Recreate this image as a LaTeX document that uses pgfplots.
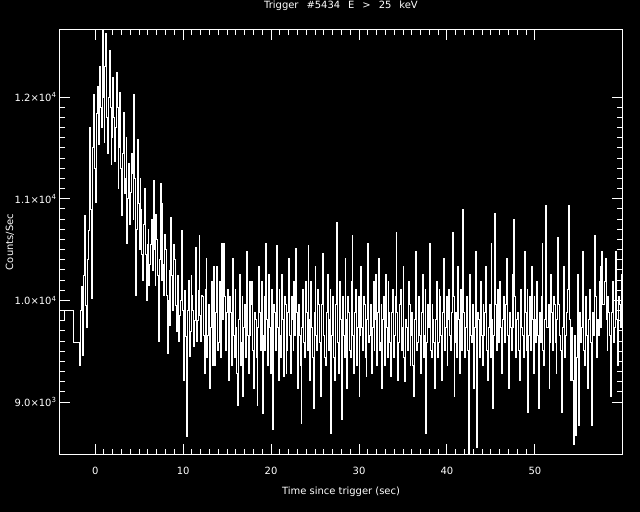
\documentclass[border=0pt]{standalone}
\usepackage{fontspec}
\setmainfont{DejaVu Sans}
\usepackage{pgfplots}
\usepackage{pgfplotstable}
\pgfplotsset{compat=1.18}

% 0.1 s bins starting at t=-1.8 s (counts/sec), last row closes the final step
\pgfplotstableread[row sep=\\]{
c\\
9360\\ 9900\\ 10140\\ 9650\\ 9460\\ 10250\\ 10840\\ 9950\\ 9730\\ 10400\\ 10690\\ 11200\\ 11700\\ 10900\\ 10020\\ 11500\\ 12030\\ 11300\\ 10960\\ 11600\\
11840\\ 12100\\ 11530\\ 12300\\ 11900\\ 11700\\ 12750\\ 12000\\ 11550\\ 12300\\ 12630\\ 11800\\ 11450\\ 12000\\ 12460\\ 11900\\ 11340\\ 11600\\ 12190\\ 11800\\
11370\\ 11700\\ 12240\\ 11900\\ 11100\\ 11500\\ 12050\\ 11300\\ 10840\\ 11450\\ 11850\\ 11050\\ 11200\\ 11600\\ 10560\\ 11000\\ 11350\\ 10750\\ 11060\\ 11450\\
11250\\ 10800\\ 12030\\ 11200\\ 10050\\ 10700\\ 11580\\ 10950\\ 10500\\ 11200\\ 10900\\ 10450\\ 10200\\ 10750\\ 11100\\ 10450\\ 10000\\ 10550\\ 10700\\ 10150\\
10350\\ 10550\\ 10800\\ 10300\\ 11180\\ 10500\\ 10150\\ 10850\\ 10600\\ 10250\\ 9600\\ 10400\\ 11150\\ 10200\\ 10950\\ 10350\\ 10050\\ 10650\\ 10500\\ 10050\\
9480\\ 10000\\ 10300\\ 9750\\ 10820\\ 10250\\ 9900\\ 10550\\ 10400\\ 9950\\ 9700\\ 10150\\ 10250\\ 9600\\ 9850\\ 10000\\ 10690\\ 9900\\ 9210\\ 9850\\
10100\\ 9650\\ 8660\\ 9900\\ 10200\\ 9450\\ 9700\\ 10250\\ 10050\\ 9900\\ 9550\\ 9800\\ 10520\\ 9600\\ 9800\\ 10100\\ 10640\\ 9850\\ 9600\\ 10050\\
10035\\ 9660\\ 9285\\ 10110\\ 10410\\ 9435\\ 9660\\ 9960\\ 9135\\ 9735\\ 10185\\ 9360\\ 9810\\ 10335\\ 9360\\ 9885\\ 10335\\ 9510\\ 9585\\ 10185\\
9960\\ 9435\\ 10560\\ 9810\\ 10560\\ 10035\\ 9510\\ 9885\\ 10110\\ 9510\\ 9210\\ 10035\\ 9885\\ 9360\\ 10410\\ 9660\\ 9435\\ 10110\\ 9735\\ 9285\\
8970\\ 9810\\ 10260\\ 9360\\ 9585\\ 10035\\ 9060\\ 9735\\ 9960\\ 9435\\ 10485\\ 9660\\ 9285\\ 10185\\ 9660\\ 9960\\ 10185\\ 9510\\ 9135\\ 9885\\
9810\\ 9435\\ 8970\\ 9735\\ 10335\\ 9885\\ 9510\\ 10185\\ 8890\\ 9660\\ 10035\\ 9510\\ 10560\\ 9810\\ 9360\\ 10260\\ 9735\\ 9285\\ 10110\\ 9585\\
8730\\ 9960\\ 9885\\ 9510\\ 10540\\ 9735\\ 9210\\ 10110\\ 9660\\ 9435\\ 10260\\ 9810\\ 9250\\ 10035\\ 9960\\ 9285\\ 9510\\ 9885\\ 10410\\ 9660\\
9285\\ 10035\\ 9810\\ 9510\\ 10185\\ 9660\\ 10510\\ 9885\\ 9135\\ 9960\\ 9660\\ 9360\\ 8790\\ 9735\\ 10110\\ 9585\\ 9435\\ 10185\\ 9885\\ 9510\\
10540\\ 9810\\ 9210\\ 10185\\ 9735\\ 9435\\ 8940\\ 9885\\ 10335\\ 9660\\ 9510\\ 10110\\ 9960\\ 9585\\ 9060\\ 9960\\ 10460\\ 9735\\ 9660\\ 9435\\
9360\\ 9885\\ 10260\\ 9510\\ 9810\\ 10110\\ 8690\\ 9660\\ 10035\\ 9435\\ 9210\\ 9960\\ 10770\\ 9735\\ 9585\\ 9285\\ 10185\\ 9810\\ 8830\\ 10035\\
9660\\ 9435\\ 10410\\ 9810\\ 9135\\ 10035\\ 9885\\ 9510\\ 9435\\ 10185\\ 10640\\ 9660\\ 9285\\ 9885\\ 10110\\ 9360\\ 9735\\ 10035\\ 9060\\ 9660\\
10335\\ 9735\\ 9510\\ 10035\\ 9960\\ 9435\\ 9250\\ 9810\\ 10560\\ 9585\\ 9660\\ 9960\\ 9285\\ 9735\\ 10185\\ 9510\\ 9810\\ 10260\\ 9360\\ 9885\\
10410\\ 9510\\ 9585\\ 9960\\ 9135\\ 9810\\ 10035\\ 9360\\ 10260\\ 9735\\ 9435\\ 10185\\ 9885\\ 9585\\ 9250\\ 9885\\ 10110\\ 9435\\ 9660\\ 10035\\
10670\\ 9885\\ 9210\\ 9585\\ 9960\\ 10110\\ 9510\\ 9735\\ 10335\\ 9435\\ 9200\\ 9810\\ 9735\\ 9510\\ 10185\\ 9960\\ 9360\\ 9660\\ 9885\\ 9360\\
9060\\ 9810\\ 10485\\ 9510\\ 9585\\ 9960\\ 10035\\ 9660\\ 9285\\ 9885\\ 10260\\ 9435\\ 9660\\ 10110\\ 8690\\ 9585\\ 9960\\ 9735\\ 10560\\ 9510\\
9435\\ 9960\\ 9810\\ 9585\\ 9135\\ 9810\\ 10185\\ 9435\\ 9585\\ 10110\\ 10035\\ 9660\\ 9210\\ 9885\\ 10410\\ 9510\\ 9735\\ 10035\\ 9360\\ 9810\\
10110\\ 9660\\ 9510\\ 9885\\ 10670\\ 10035\\ 9060\\ 9585\\ 9885\\ 9435\\ 10335\\ 9810\\ 9285\\ 10110\\ 9660\\ 9510\\ 10900\\ 9885\\ 9435\\ 9735\\
10035\\ 9510\\ 8400\\ 9810\\ 10260\\ 9660\\ 9585\\ 9960\\ 9135\\ 9735\\ 10485\\ 9585\\ 8550\\ 9885\\ 9810\\ 9435\\ 10185\\ 9660\\ 9360\\ 9960\\
9660\\ 9885\\ 10335\\ 9510\\ 9210\\ 9735\\ 9960\\ 9435\\ 10560\\ 9810\\ 8940\\ 9660\\ 10860\\ 9960\\ 9510\\ 10110\\ 9810\\ 9585\\ 10185\\ 9735\\
9285\\ 9810\\ 10035\\ 9585\\ 9585\\ 9960\\ 10410\\ 9660\\ 9135\\ 9885\\ 9735\\ 9510\\ 10260\\ 9735\\ 10800\\ 10035\\ 9435\\ 9810\\ 9885\\ 9510\\
9210\\ 9960\\ 10110\\ 9735\\ 9660\\ 9435\\ 10485\\ 9885\\ 9510\\ 10110\\ 8900\\ 9660\\ 10035\\ 9510\\ 10335\\ 9810\\ 9285\\ 10035\\ 9810\\ 9585\\
10185\\ 9660\\ 8940\\ 9885\\ 9585\\ 10035\\ 10560\\ 9510\\ 9360\\ 9810\\ 10930\\ 9735\\ 9735\\ 9960\\ 9135\\ 9585\\ 10260\\ 9885\\ 9510\\ 10035\\
9960\\ 9585\\ 9285\\ 9810\\ 10620\\ 9960\\ 9660\\ 9510\\ 8900\\ 9735\\ 10335\\ 9885\\ 9435\\ 9660\\ 9885\\ 10110\\ 10930\\ 9810\\ 9210\\ 9435\\
9735\\ 9210\\ 8580\\ 9660\\ 8670\\ 9435\\ 10260\\ 9510\\ 8770\\ 9885\\ 9585\\ 9735\\ 10485\\ 9510\\ 9360\\ 9960\\ 10035\\ 9660\\ 9135\\ 9810\\
10110\\ 9585\\ 8770\\ 9885\\ 9810\\ 9660\\ 10635\\ 10035\\ 9435\\ 9810\\ 9660\\ 10185\\ 10335\\ 9735\\ 10480\\ 9960\\ 9960\\ 10185\\ 10410\\ 9810\\
9510\\ 10035\\ 9885\\ 9660\\ 9060\\ 9885\\ 10185\\ 9585\\ 9735\\ 10110\\ 10485\\ 9810\\ 9360\\ 10035\\ 9960\\ 9735\\ 10260\\ 9885\\ 9885\\
}\fine

\newcommand{\gap}{\hspace{0.8em}}

\begin{document}
\begin{tikzpicture}[font=\fontsize{10}{12}\selectfont]
\fill[black] (-60bp,-58bp) rectangle (580bp,454bp);
\path[use as bounding box] (-60bp,-58bp) rectangle (580bp,454bp);
\begin{axis}[
    at={(0,0)}, anchor=south west,
    scale only axis, width=562bp, height=424bp,
    xmin=-4, xmax=59.9,
    ymin=8490, ymax=12660,
    xtick={0,10,...,50}, minor x tick num=9,
    ytick={9000,10000,11000,12000}, minor y tick num=9,
    yticklabels={9.0×10\textsuperscript{3}, 1.0×10\textsuperscript{4}, 1.1×10\textsuperscript{4}, 1.2×10\textsuperscript{4}},
    scaled ticks=false,
    /pgf/number format/assume math mode=true,
    tick align=inside,
    major tick length=10bp, minor tick length=5bp,
    axis line style={white, line width=1bp},
    tick style={white, line width=1bp},
    every tick label/.append style={text=white},
    xticklabel style={yshift=-10bp},
    title={Trigger\gap\#5434\gap E\gap >\gap 25\gap keV},
    title style={text=white, at={(axis description cs:0.5,1.0425)}, anchor=center},
    xlabel={Time since trigger (sec)},
    xlabel style={text=white, at={(axis description cs:0.5,-0.0896)}, anchor=center},
    ylabel={Counts/Sec},
    ylabel style={text=white, at={(axis description cs:-0.089,0.5)}, anchor=center},
]
% pre-trigger 1.024 s bins
\addplot[white, line width=1bp, const plot]
    coordinates {(-4,9800)(-3.49,9900)(-2.47,9590)(-1.8,9360)};
% fine resolution data
\addplot[white, line width=0.9bp, const plot]
    table[x expr=\coordindex*0.1-1.8, y=c] {\fine};
\end{axis}
\end{tikzpicture}
\end{document}
